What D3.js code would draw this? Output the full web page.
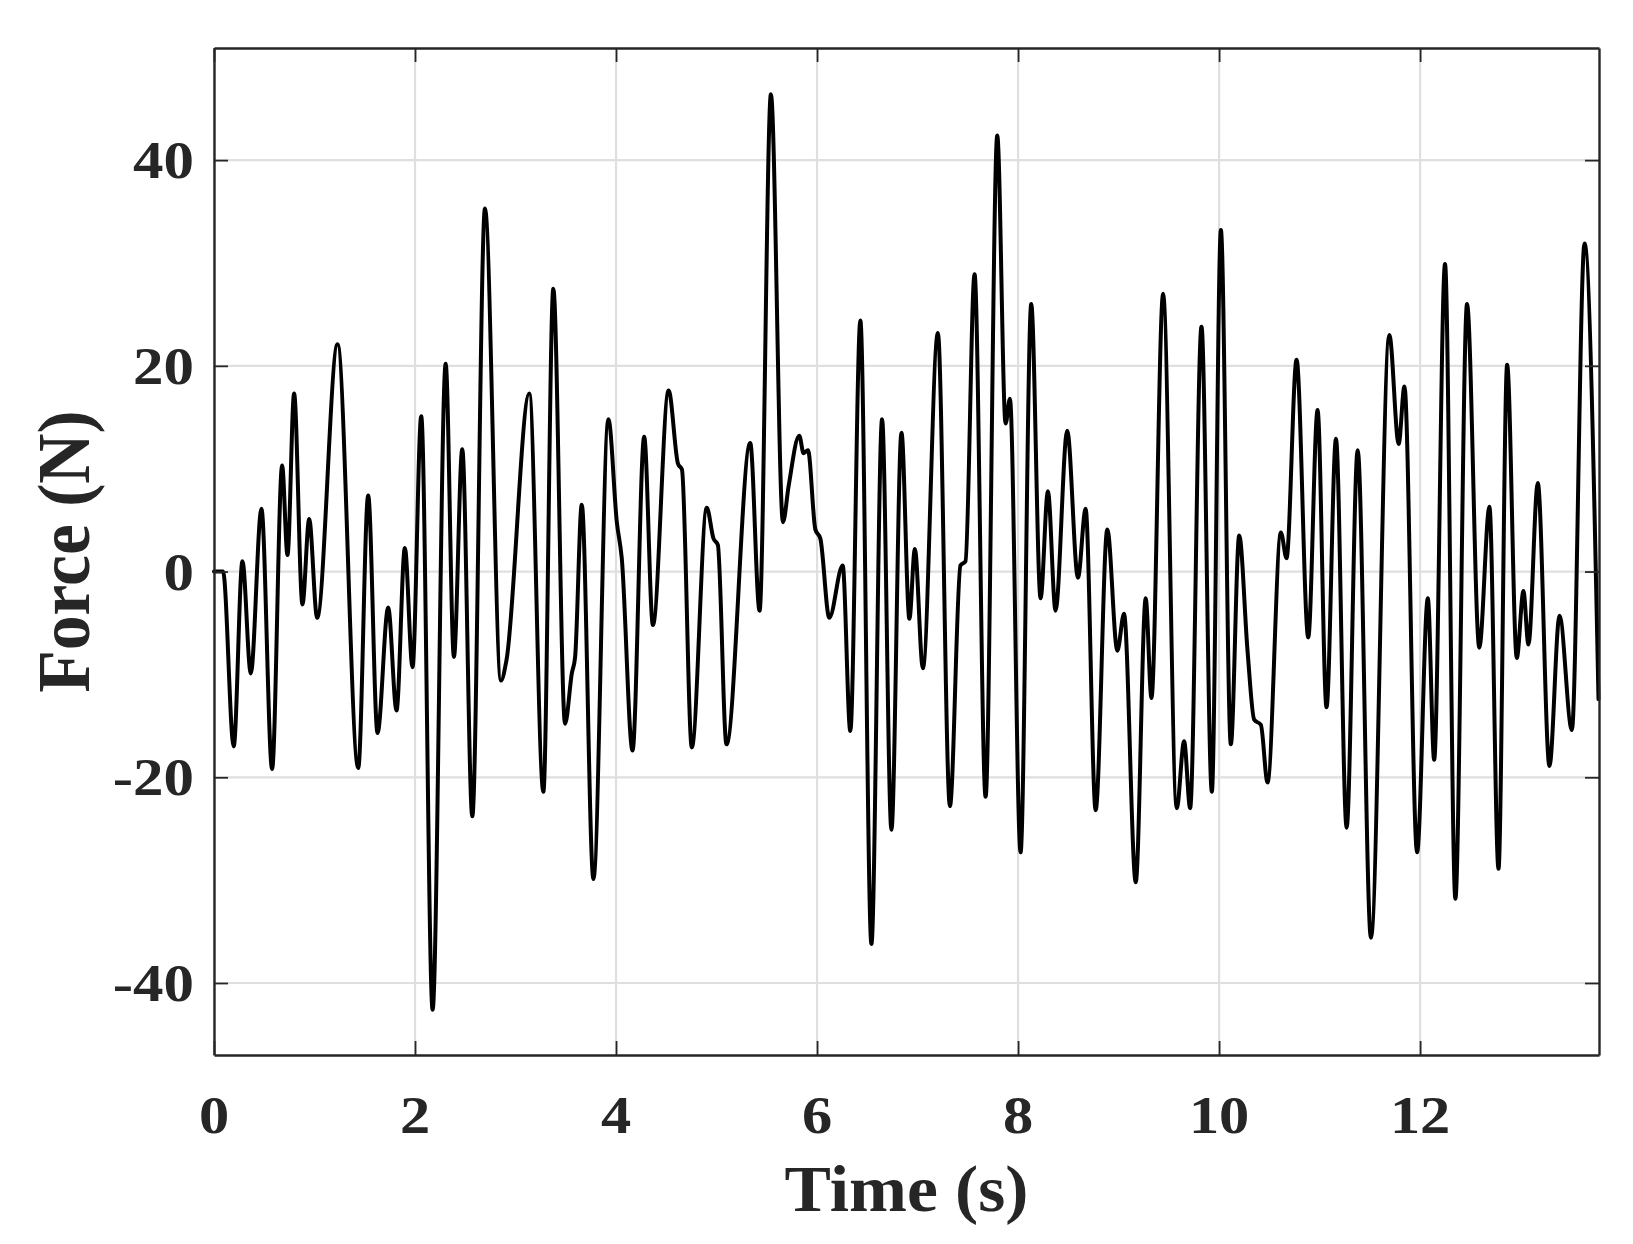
<!DOCTYPE html>
<html>
<head>
<meta charset="utf-8">
<script src="https://cdn.jsdelivr.net/npm/d3@7"></script>
<style>
  html, body { margin: 0; padding: 0; background: #ffffff; }
  svg { display: block; }
  text { font-family: "Liberation Serif", "Times New Roman", serif; font-weight: bold; fill: #262626; }
</style>
</head>
<body>
<svg id="chart" width="1633" height="1244"></svg>
<script>
// ---- data ----
const timeS = [
  0.000, 0.090, 0.196, 0.283, 0.366, 0.472, 0.578, 0.678, 0.731, 0.797,
  0.880, 0.947, 1.026, 1.229, 1.435, 1.534, 1.627, 1.733, 1.816, 1.899,
  1.975, 2.062, 2.175, 2.305, 2.387, 2.470, 2.570, 2.696, 2.855, 2.910,
  3.137, 3.277, 3.376, 3.493, 3.560, 3.593, 3.659, 3.775, 3.924, 4.008,
  4.057, 4.164, 4.280, 4.367, 4.523, 4.616, 4.656, 4.754, 4.903, 4.970,
  5.013, 5.099, 5.335, 5.428, 5.541, 5.661, 5.717, 5.823, 5.866, 5.910,
  5.983, 6.033, 6.122, 6.255, 6.331, 6.431, 6.541, 6.647, 6.740, 6.840,
  6.919, 6.973, 7.053, 7.202, 7.322, 7.427, 7.477, 7.567, 7.677, 7.793,
  7.876, 7.919, 8.025, 8.131, 8.224, 8.297, 8.373, 8.489, 8.596, 8.672,
  8.772, 8.888, 8.988, 9.054, 9.171, 9.270, 9.327, 9.443, 9.579, 9.652,
  9.712, 9.825, 9.928, 10.018, 10.117, 10.200, 10.283, 10.349, 10.416, 10.482,
  10.615, 10.671, 10.771, 10.887, 10.980, 11.069, 11.163, 11.269, 11.379, 11.511,
  11.694, 11.787, 11.844, 11.970, 12.077, 12.140, 12.248, 12.351, 12.467, 12.589,
  12.690, 12.780, 12.866, 12.962, 13.028, 13.078, 13.171, 13.287, 13.387, 13.510,
  13.636, 13.775
];
const forceN = [
  0.0, 0.0, -17.0, 1.0, -9.9, 6.1, -19.2, 10.3, 1.6, 17.3,
  -3.2, 5.1, -4.5, 22.1, -19.1, 7.4, -15.7, -3.5, -13.5, 2.3,
  -9.3, 15.1, -42.6, 20.2, -8.3, 11.9, -23.8, 35.3, -10.6, -8.6,
  17.3, -21.4, 27.5, -14.8, -9.9, -8.3, 6.5, -29.9, 14.8, 4.8,
  1.3, -17.4, 13.1, -5.2, 17.6, 10.5, 9.9, -17.1, 6.2, 3.2,
  2.6, -16.8, 12.5, -3.8, 46.4, 4.8, 8.3, 13.2, 11.5, 11.8,
  4.1, 3.2, -4.5, 0.6, -15.5, 24.4, -36.2, 14.8, -25.1, 13.5,
  -4.6, 2.2, -9.4, 23.2, -22.8, 0.6, 1.0, 28.9, -21.9, 42.4,
  14.4, 16.8, -27.3, 26.0, -2.6, 7.8, -3.8, 13.7, -0.6, 6.1,
  -23.2, 4.1, -7.7, -4.1, -30.2, -2.6, -12.3, 27.0, -23.0, -16.5,
  -23.0, 23.8, -21.4, 33.2, -16.8, 3.5, -7.7, -14.4, -14.9, -20.5,
  3.8, 1.3, 20.6, -6.4, 15.7, -13.2, 12.9, -24.9, 11.8, -35.6,
  23.0, 12.4, 18.0, -27.3, -2.6, -18.3, 29.9, -31.8, 26.0, -7.4,
  6.3, -28.9, 20.1, -8.4, -1.9, -7.1, 8.6, -18.9, -4.3, -15.4,
  31.9, -12.4
];
const xTicks = [0, 2, 4, 6, 8, 10, 12];
const yTicks = [-40, -20, 0, 20, 40];
const xLabel = "Time (s)";
const yLabel = "Force (N)";

// ---- layout ----
const svg = d3.select("#chart");
const L = 214, R = 1599, T = 48, B = 1055;
const x = d3.scaleLinear().domain([0, 13.78]).range([L, R]);
const y = d3.scaleLinear().domain([-47.0, 50.9]).range([B, T]);
const axisColor = "#262626";
const tickLen = 14;

svg.append("rect").attr("width", 1633).attr("height", 1244).attr("fill", "#ffffff");

// grid
const grid = svg.append("g");
grid.selectAll("line.gx").data(xTicks).join("line")
  .attr("x1", d => x(d)).attr("x2", d => x(d)).attr("y1", T).attr("y2", B)
  .attr("stroke", "#dfdfdf").attr("stroke-width", 2.2);
grid.selectAll("line.gy").data(yTicks).join("line")
  .attr("x1", L).attr("x2", R).attr("y1", d => y(d)).attr("y2", d => y(d))
  .attr("stroke", "#dfdfdf").attr("stroke-width", 2.2);

// data line
const pts = timeS.map((t, i) => [t, forceN[i]]);
const lineGen = d3.line().x(d => x(d[0])).y(d => y(d[1])).curve(d3.curveMonotoneX);
svg.append("path").datum(pts)
  .attr("d", lineGen)
  .attr("fill", "none").attr("stroke", "#000000").attr("stroke-width", 4)
  .attr("stroke-linejoin", "round").attr("stroke-linecap", "round");

// axes via d3 axis generators (inward ticks, no labels)
const gAx = svg.append("g");
gAx.append("g").attr("transform", `translate(0,${B})`)
  .call(d3.axisBottom(x).tickValues(xTicks).tickSizeInner(-tickLen).tickSizeOuter(0).tickFormat(""));
gAx.append("g").attr("transform", `translate(0,${T})`)
  .call(d3.axisTop(x).tickValues(xTicks).tickSizeInner(-tickLen).tickSizeOuter(0).tickFormat(""));
gAx.append("g").attr("transform", `translate(${L},0)`)
  .call(d3.axisLeft(y).tickValues(yTicks).tickSizeInner(-tickLen).tickSizeOuter(0).tickFormat(""));
gAx.append("g").attr("transform", `translate(${R},0)`)
  .call(d3.axisRight(y).tickValues(yTicks).tickSizeInner(-tickLen).tickSizeOuter(0).tickFormat(""));
gAx.selectAll(".domain").attr("stroke", axisColor).attr("stroke-width", 2.4);
gAx.selectAll(".tick line").attr("stroke", axisColor).attr("stroke-width", 1.8);

// tick labels
svg.append("g").selectAll("text").data(xTicks).join("text")
  .attr("transform", d => `translate(${x(d)},${1133}) scale(1.14,1)`)
  .attr("text-anchor", "middle").attr("font-size", 53)
  .text(d => d);
svg.append("g").selectAll("text").data(yTicks).join("text")
  .attr("transform", d => `translate(194,${y(d)}) scale(1.15,1)`)
  .attr("text-anchor", "end").attr("dy", "0.34em").attr("font-size", 53)
  .text(d => d);

// axis labels
svg.append("text")
  .attr("transform", `translate(${(L + R) / 2},1211) scale(1.07,1)`)
  .attr("text-anchor", "middle").attr("font-size", 65)
  .text(xLabel);
svg.append("text")
  .attr("transform", `translate(89,${(T + B) / 2}) rotate(-90) scale(0.94,1)`)
  .attr("text-anchor", "middle").attr("font-size", 74)
  .text(yLabel);
</script>
</body>
</html>
